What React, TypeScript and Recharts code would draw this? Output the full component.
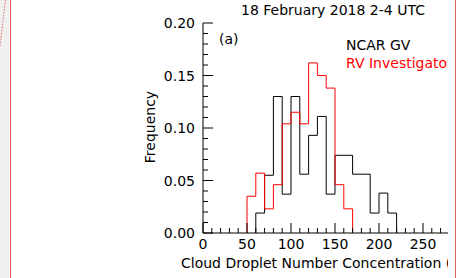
import { Legend, Line, LineChart, XAxis, YAxis } from 'recharts';

// histogram bins, 10 cm^-3 wide, value = left edge of each bin
const gvBinStarts = [60, 70, 80, 90, 100, 110, 120, 130, 140, 150, 160, 170, 180, 190, 200, 210];
const gvFreq = [0.019, 0.055, 0.13, 0.037, 0.13, 0.056, 0.093, 0.111, 0.037, 0.074, 0.074, 0.056, 0.056, 0.019, 0.038, 0.019];

const rvBinStarts = [50, 60, 70, 80, 90, 100, 110, 120, 130, 140, 150, 160];
const rvFreq = [0.035, 0.057, 0.023, 0.046, 0.104, 0.115, 0.104, 0.162, 0.15, 0.138, 0.046, 0.023];

const binWidth = 10;

const xMajorTicks = [0, 50, 100, 150, 200, 250, 300];
const yMajorTicks = [0, 0.05, 0.1, 0.15, 0.2];

const xTicks = Array.from({ length: 31 }, (_, i) => i * 10);
const yTicks = Array.from({ length: 21 }, (_, i) => i / 100);

const FONT = '"DejaVu Sans", sans-serif';

// step outline: rise from zero at the first edge, fall back to zero after the last bin
const toSteps = (starts: number[], freq: number[]) => [
  { x: starts[0], y: 0 },
  ...starts.map((s, i) => ({ x: s, y: freq[i] })),
  { x: starts[starts.length - 1] + binWidth, y: 0 },
];

const gvData = toSteps(gvBinStarts, gvFreq);
const rvData = toSteps(rvBinStarts, rvFreq);

const isMajorX = (v: number) => xMajorTicks.includes(v);
const isMajorY = (v: number) => yMajorTicks.some((t) => Math.abs(t - v) < 1e-6);

const BottomTick = (props: any) => {
  const { x, y, payload } = props;
  const major = isMajorX(payload.value);
  return (
    <g>
      <line x1={x} x2={x} y1={y} y2={y - (major ? 10 : 5)} stroke="#000" />
      {major && (
        <text x={x} y={y + 16} textAnchor="middle" fontSize={14} fontFamily={FONT} fill="#000">
          {payload.value}
        </text>
      )}
    </g>
  );
};

const TopTick = (props: any) => {
  const { x, y, payload } = props;
  const major = isMajorX(payload.value);
  return <line x1={x} x2={x} y1={y} y2={y + (major ? 10 : 5)} stroke="#000" />;
};

const LeftTick = (props: any) => {
  const { x, y, payload } = props;
  const major = isMajorY(payload.value);
  return (
    <g>
      <line x1={x} x2={x + (major ? 10 : 5)} y1={y} y2={y} stroke="#000" />
      {major && (
        <text x={x - 8} y={y + 5} textAnchor="end" fontSize={14} fontFamily={FONT} fill="#000">
          {payload.value.toFixed(2)}
        </text>
      )}
    </g>
  );
};

const renderLegend = (props: any) => {
  const items = props.payload ?? [];
  return (
    <div style={{ fontFamily: FONT, fontSize: 14, lineHeight: '18px', whiteSpace: 'nowrap' }}>
      {items.map((it: any) => (
        <div key={it.value} style={{ color: it.color }}>
          {it.value}
        </div>
      ))}
    </div>
  );
};

export default function App() {
  return (
    <div style={{ position: 'fixed', left: 0, top: 0, width: 458, height: 278, background: '#fff', overflow: 'hidden' }}>
      <div style={{ position: 'absolute', left: 0, top: 0, width: 448, height: 278, overflow: 'hidden' }}>
        <LineChart width={480} height={278} margin={{ top: 23, right: 13, bottom: 0, left: 0 }}>
          <XAxis
            dataKey="x"
            type="number"
            domain={[0, 300]}
            ticks={xTicks}
            interval={0}
            height={45}
            tickSize={0}
            tickMargin={0}
            tick={BottomTick}
            axisLine={{ stroke: '#000' }}
          />
          <XAxis
            xAxisId="top"
            orientation="top"
            type="number"
            domain={[0, 300]}
            ticks={xTicks}
            interval={0}
            height={0}
            tickSize={0}
            tickMargin={0}
            tick={TopTick}
            axisLine={{ stroke: '#000' }}
          />
          <YAxis
            type="number"
            domain={[0, 0.2]}
            ticks={yTicks}
            interval={0}
            width={203}
            tickSize={0}
            tickMargin={0}
            tick={LeftTick}
            axisLine={{ stroke: '#000' }}
          />
          <Legend
            content={renderLegend}
            layout="horizontal"
            verticalAlign="middle"
            align="center"
            wrapperStyle={{ left: 346, top: 36, width: 200 }}
          />
          <Line
            data={gvData}
            dataKey="y"
            name="NCAR GV"
            type="stepAfter"
            stroke="#000"
            strokeWidth={1}
            dot={false}
            isAnimationActive={false}
          />
          <Line
            data={rvData}
            dataKey="y"
            name="RV Investigator"
            type="stepAfter"
            stroke="#ff0000"
            strokeWidth={1}
            dot={false}
            isAnimationActive={false}
          />
        </LineChart>
        <svg
          width={448}
          height={278}
          style={{ position: 'absolute', left: 0, top: 0, pointerEvents: 'none' }}
          fontFamily={FONT}
          fontSize={14}
        >
          <text x={241} y={15} fill="#000">18 February 2018 2-4 UTC</text>
          <text x={219} y={44} fill="#000">(a)</text>
          <text x={155} y={127} fill="#000" textAnchor="middle" transform="rotate(-90 155 127)">
            Frequency
          </text>
          <text x={181} y={268} fill="#000">Cloud Droplet Number Concentration (cm⁻³)</text>
        </svg>
      </div>
      {/* frame of the surrounding figure */}
      <div style={{ position: 'absolute', left: 0, top: 0, width: 10, height: 278, background: '#f0f0f0' }} />
      <svg width={12} height={50} style={{ position: 'absolute', left: 0, top: 0 }}>
        <line x1={5.5} y1={0} x2={0} y2={46} stroke="#e06a6a" strokeDasharray="1.5 1.5" />
      </svg>
      <div style={{ position: 'absolute', left: 10, top: 0, width: 1, height: 278, background: '#e35b5b' }} />
      <div style={{ position: 'absolute', left: 455, top: 0, width: 1, height: 278, background: '#e35b5b' }} />
    </div>
  );
}
